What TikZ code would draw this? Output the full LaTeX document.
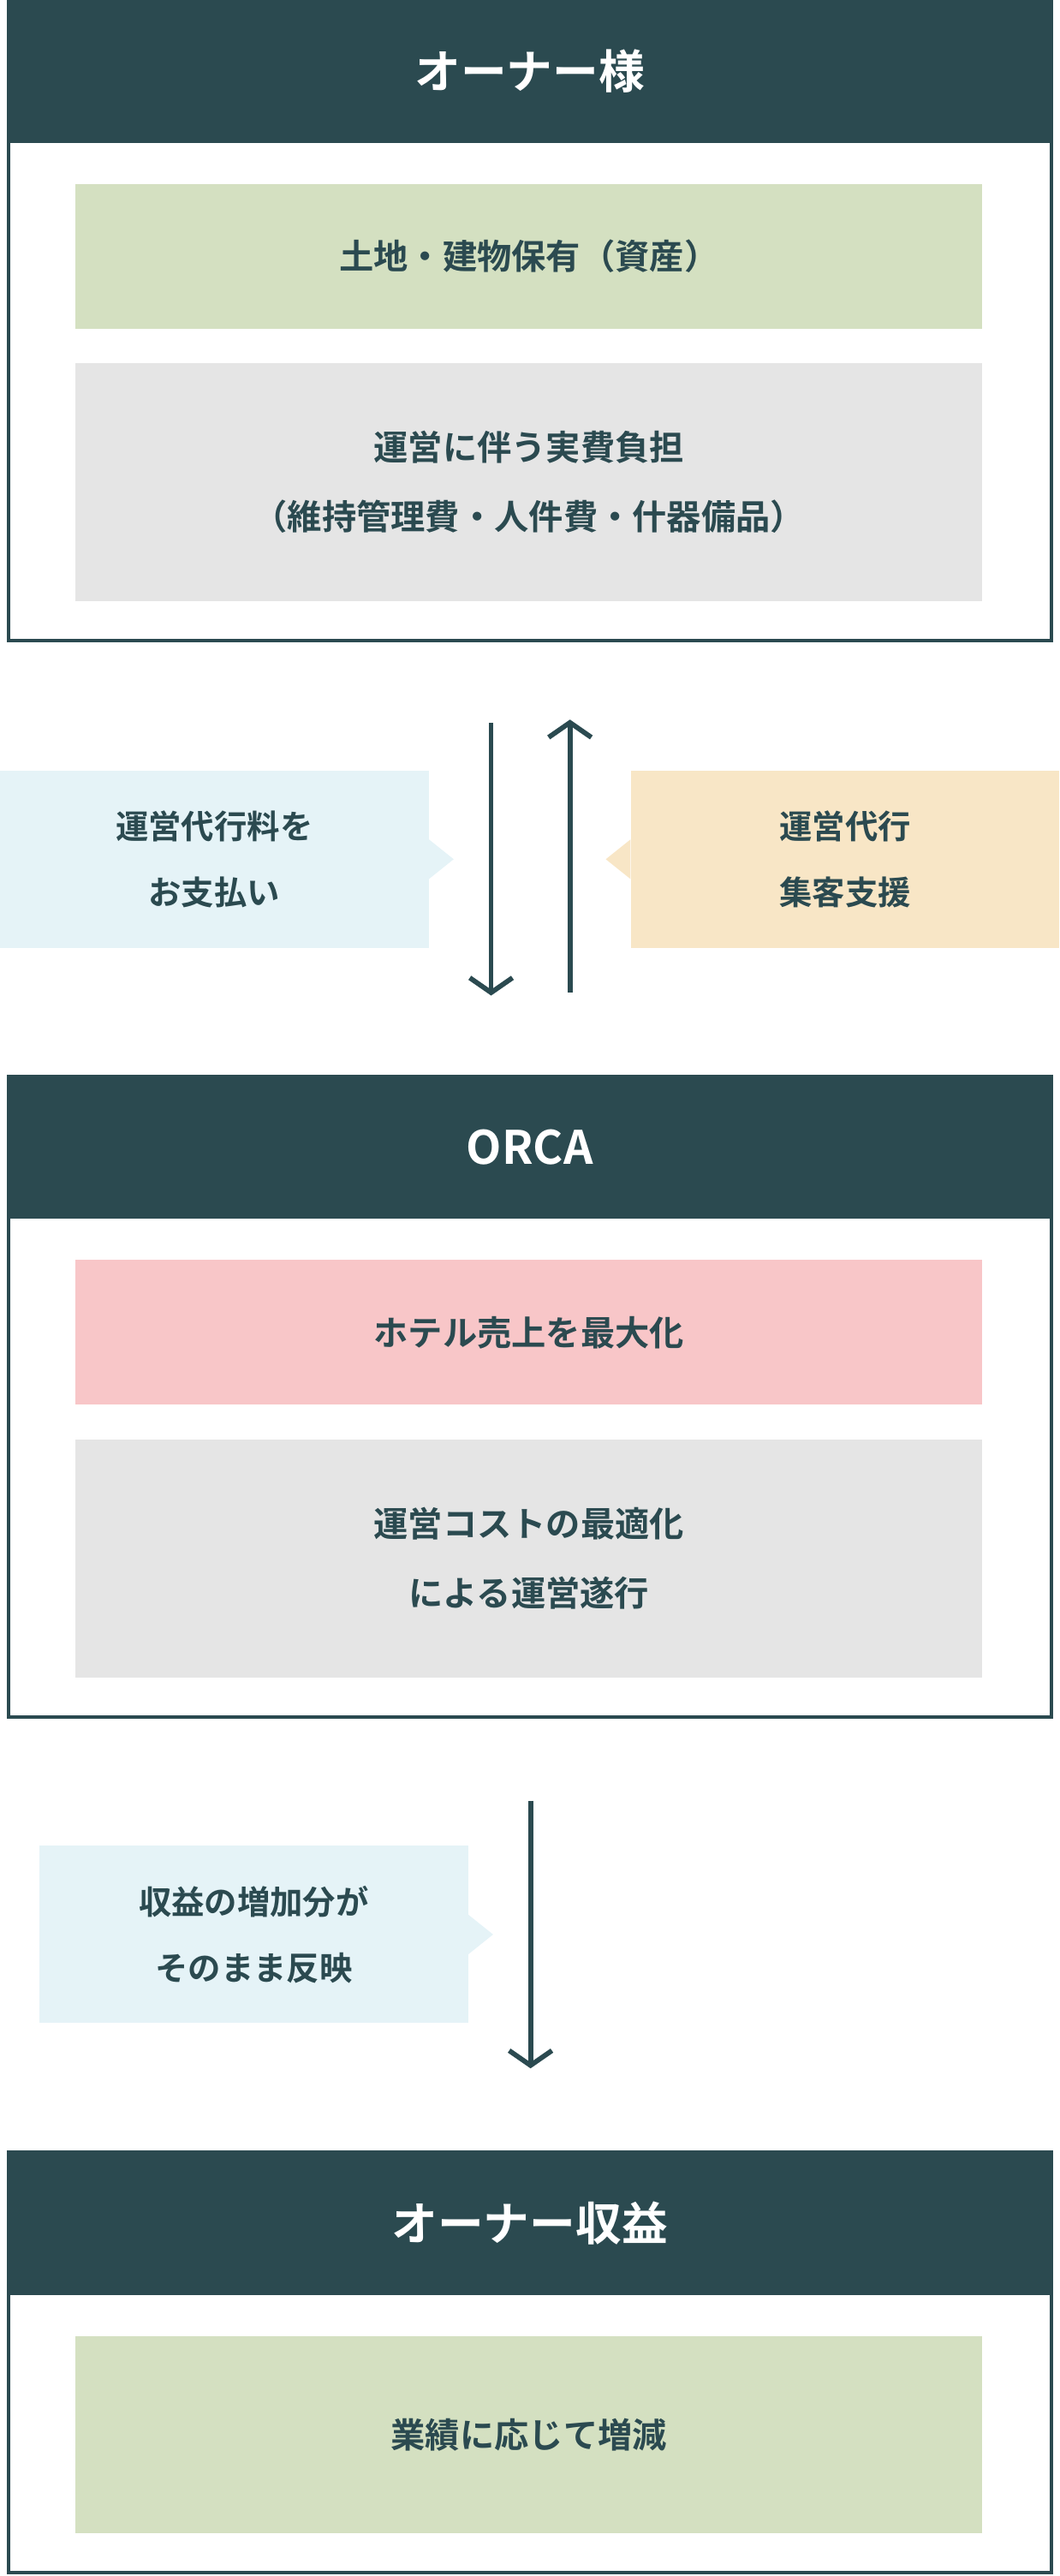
\documentclass[tikz,border=0pt]{standalone}
\usepackage{fontspec}
\setmainfont{Noto Sans CJK JP}[BoldFont={Noto Sans CJK JP Bold}]
\usetikzlibrary{arrows.meta,positioning}
\definecolor{darkteal}{HTML}{2B4A50}
\definecolor{leaf}{HTML}{D4E0C1}
\definecolor{mist}{HTML}{E5E5E5}
\definecolor{rose}{HTML}{F8C6C8}
\definecolor{sky}{HTML}{E5F3F7}
\definecolor{sand}{HTML}{F8E6C6}

\begin{document}
\begin{tikzpicture}[x=1pt,y=-1pt,
        frame/.style={draw=darkteal,line width=2pt,minimum width=635pt,inner sep=0pt},
        header/.style={fill=darkteal,text=white,minimum width=637pt,minimum height=87pt,
          font=\bfseries\fontsize{28}{30}\selectfont},
        panel/.style={minimum width=552pt,text=darkteal,align=center,
          font=\bfseries\fontsize{21}{42}\selectfont},
        note/.style={minimum width=261pt,minimum height=108pt,text=darkteal,align=center,
          font=\bfseries\fontsize{20}{40}\selectfont},
        flow/.style={draw=darkteal,line width=3pt,-{Straight Barb[length=9pt,width=26pt,line width=3pt]}}
        ]
        \useasboundingbox (0,0) rectangle (645,1568);

        % owner
        \node[frame,minimum height=390pt] (owner) at (322.5,195) {};
        \node[header] (ownerhead) at (322.5,43.5) {オーナー様};
        \node[panel,fill=leaf,minimum height=88pt] (asset) at (322,156) {土地・建物保有（資産）};
        \node[panel,fill=mist,minimum height=145pt] (cost) at (322,293.5) {運営に伴う実費負担\\（維持管理費・人件費・什器備品）};

        % fee / support
        \node[note,fill=sky] (fee) at (130.5,523) {運営代行料を\\お支払い};
        \fill[sky] (fee.east) ++(0,-12) -- ++(15,12) -- ++(-15,12) -- cycle;
        \node[note,fill=sand] (support) at (514.5,523) {運営代行\\集客支援};
        \fill[sand] (support.west) ++(0,-12) -- ++(-15,12) -- ++(15,12) -- cycle;
        \coordinate (downtop) at (299,440);
        \coordinate (downend) at (299,606);
        \coordinate (uptop) at (347,438);
        \coordinate (upend) at (347,604);
        \draw[flow] (downtop) -- (downend);
        \draw[flow] (upend) -- (uptop);

        % orca
        \node[frame,minimum height=390pt] (orca) at (322.5,850) {};
        \node[header] (orcahead) at (322.5,698.5) {ORCA};
        \node[panel,fill=rose,minimum height=88pt] (sales) at (322,811) {ホテル売上を最大化};
        \node[panel,fill=mist,minimum height=145pt] (ops) at (322,948.5) {運営コストの最適化\\による運営遂行};

        % return
        \node[note,fill=sky] (gain) at (154.5,1177.5) {収益の増加分が\\そのまま反映};
        \fill[sky] (gain.east) ++(0,-12) -- ++(15,12) -- ++(-15,12) -- cycle;
        \coordinate (gaintop) at (323,1096);
        \coordinate (gainend) at (323,1259);
        \draw[flow] (gaintop) -- (gainend);

        % owner profit
        \node[frame,minimum height=256pt] (profit) at (322.5,1438) {};
        \node[header] (profithead) at (322.5,1353.5) {オーナー収益};
        \node[panel,fill=leaf,minimum height=120pt] (result) at (322,1482) {業績に応じて増減};
\end{tikzpicture}
\end{document}
